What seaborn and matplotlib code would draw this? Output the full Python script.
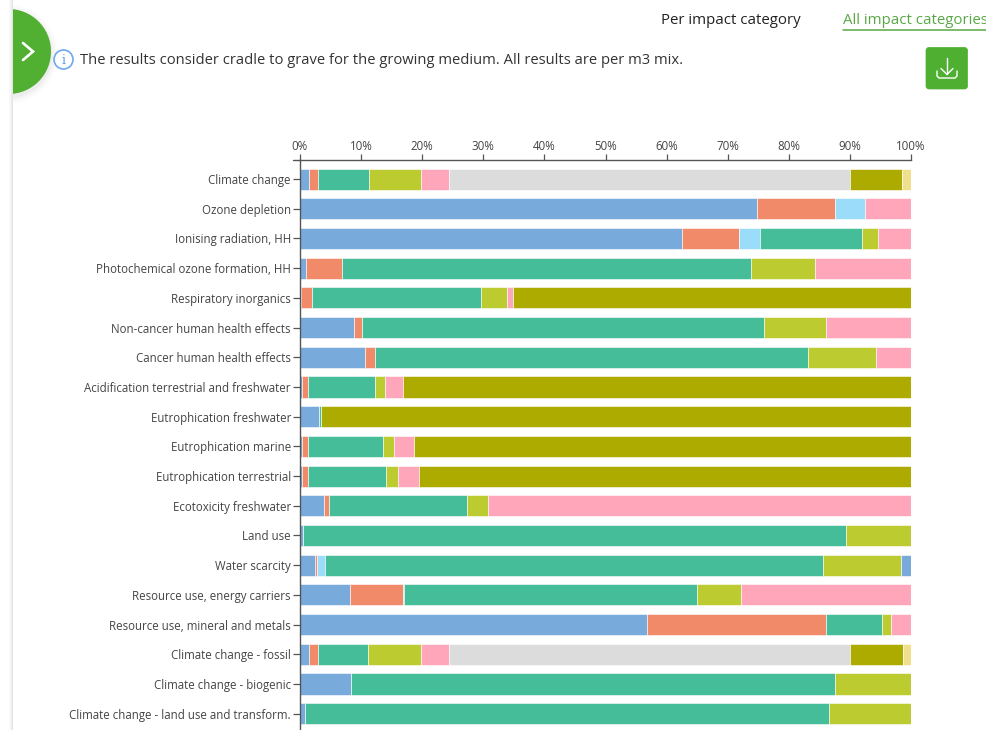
import numpy as np
import pandas as pd
import matplotlib
matplotlib.use("Agg")
import matplotlib.pyplot as plt
from matplotlib.patches import Circle, FancyBboxPatch, Rectangle
import seaborn as sns

sns.set_theme(style="white")
plt.rcParams["font.family"] = ["Open Sans", "DejaVu Sans"]

categories = ["Climate change", "Ozone depletion", "Ionising radiation, HH",
              "Photochemical ozone formation, HH", "Respiratory inorganics",
              "Non-cancer human health effects", "Cancer human health effects",
              "Acidification terrestrial and freshwater", "Eutrophication freshwater",
              "Eutrophication marine", "Eutrophication terrestrial", "Ecotoxicity freshwater",
              "Land use", "Water scarcity", "Resource use, energy carriers",
              "Resource use, mineral and metals", "Climate change - fossil",
              "Climate change - biogenic", "Climate change - land use and transform."]
blue = [1.4, 74.8, 62.5, 1.0, 0.1, 8.9, 10.7, 0.3, 3.1, 0.3, 0.3, 3.9, 0.5, 2.5, 8.2, 56.8, 1.4, 8.3, 0.9]
orange = [1.5, 12.8, 9.3, 5.9, 1.8, 1.3, 1.5, 1.0, 0, 1.0, 1.0, 0.9, 0, 0.3, 8.7, 29.3, 1.5, 0, 0]
sky = [0, 4.9, 3.5, 0, 0, 0, 0, 0, 0, 0, 0, 0, 0, 1.3, 0.2, 0, 0, 0, 0]
green = [8.4, 0, 16.7, 66.9, 27.7, 65.7, 71.0, 10.9, 0.3, 12.3, 12.8, 22.5, 88.8, 81.5, 47.9, 9.2, 8.3, 79.3, 85.7]
lime = [8.5, 0, 2.6, 10.5, 4.3, 10.2, 11.1, 1.7, 0, 1.8, 2.0, 3.5, 10.7, 12.8, 7.2, 1.4, 8.6, 12.4, 13.4]
pink = [4.6, 7.5, 5.4, 15.7, 1.0, 13.9, 5.7, 3.0, 0, 3.3, 3.3, 69.2, 0, 0, 27.8, 3.3, 4.6, 0, 0]
gray = [65.6, 0, 0, 0, 0, 0, 0, 0, 0, 0, 0, 0, 0, 0, 0, 0, 65.6, 0, 0]
olive = [8.6, 0, 0, 0, 65.1, 0, 0, 83.1, 96.6, 81.3, 80.6, 0, 0, 0, 0, 0, 8.7, 0, 0]
yellow = [1.4, 0, 0, 0, 0, 0, 0, 0, 0, 0, 0, 0, 0, 0, 0, 0, 1.3, 0, 0]
blue2 = [0, 0, 0, 0, 0, 0, 0, 0, 0, 0, 0, 0, 0, 1.6, 0, 0, 0, 0, 0]

series = [(blue, "#78AADC"), (orange, "#F08A68"), (sky, "#9ADCFA"), (green, "#45BD99"),
          (lime, "#BCCB30"), (pink, "#FFA6BA"), (gray, "#DCDCDC"), (olive, "#ADAB00"),
          (yellow, "#F0DF8C"), (blue2, "#78AADC")]
xticks = list(range(0, 101, 10))

W, H = 987, 730
fig = plt.figure(figsize=(W / 100, H / 100), dpi=100, facecolor="white")
ax = fig.add_axes([300 / W, 0, 611 / W, (H - 160) / H])

left = np.zeros(len(categories))
for vals, col in series:
    v = np.array(vals, dtype=float)
    sns.barplot(x=v, y=categories, left=left, color=col, saturation=1, width=0.71,
                orient="h", ax=ax, linewidth=0.4, edgecolor="white")
    left += v

ax.set_xlim(0, 100)
ax.set_ylim(18.55, -0.642)
ax.set_xlabel("")
ax.set_ylabel("")
ax.xaxis.tick_top()
ax.set_xticks(xticks)
ax.set_xticklabels([f"{t}%" for t in xticks])
for s in ["right", "bottom"]:
    ax.spines[s].set_visible(False)
for s in ["top", "left"]:
    ax.spines[s].set_color("#555555")
    ax.spines[s].set_linewidth(1.0)
ax.tick_params(axis="x", length=4.5, width=0.9, color="#555555", labelsize=8.3,
               labelcolor="#444444", pad=0.3)
ax.tick_params(axis="y", length=5, width=0.9, color="#555555", labelsize=8.3,
               labelcolor="#444444", pad=1.5, left=True)

# page furniture, in pixel coordinates
ov = fig.add_axes([0, 0, 1, 1], zorder=5)
ov.set_xlim(0, W)
ov.set_ylim(H, 0)
ov.axis("off")
ov.patch.set_alpha(0)
for i, a in enumerate([0.02, 0.04, 0.07, 0.10]):
    ov.add_patch(Rectangle((9 + i, 0), 1, H, color="black", alpha=a, lw=0))
clip = Rectangle((13, 0), 100, 200, transform=ov.transData)
for grow, a in [(7, 0.012), (5, 0.015), (3, 0.02), (1.5, 0.025)]:
    sh = Circle((8.5, 54), 42.5 + grow, color="black", alpha=a, lw=0)
    ov.add_patch(sh)
    sh.set_clip_path(clip)
c = Circle((8.5, 51.5), 42.5, color="#51AF31", lw=0)
ov.add_patch(c)
c.set_clip_path(clip)
ov.plot([23, 33, 23], [43, 51.5, 60], color="white", lw=1.9, solid_capstyle="round", solid_joinstyle="miter")
ov.add_patch(Circle((63.5, 59.5), 9.5, fill=False, ec="#6EA8F0", lw=1.2))
ov.text(63.5, 60.5, "i", color="#5A9BE8", fontsize=9, ha="center", va="center", family="DejaVu Serif")
ov.text(80, 60, "The results consider cradle to grave for the growing medium. All results are per m3 mix.",
        fontsize=10.6, color="#333333", va="center", ha="left")
ov.text(661, 21, "Per impact category", fontsize=10.8, color="#222222", va="center", ha="left")
ov.text(843, 21, "All impact categories", fontsize=10.8, color="#5AA845", va="center", ha="left")
ov.plot([843, 987], [30, 30], color="#5AA845", lw=1.1)
ov.add_patch(FancyBboxPatch((926, 47.5), 41.5, 41.5, boxstyle="round,pad=0,rounding_size=3",
                            fc="#4EAF31", ec="#4EAF31", lw=0.5))
ov.plot([947, 947], [58, 74], color="white", lw=1.0)
ov.plot([941, 947, 953], [68.5, 74.5, 68.5], color="white", lw=1.0)
ov.plot([937, 937, 939, 955, 957, 957], [71, 76, 78, 78, 76, 71], color="white", lw=1.0)
ov.plot([293, 300], [160, 160], color="#555555", lw=1.0)

fig.savefig("out.png", dpi=100)
